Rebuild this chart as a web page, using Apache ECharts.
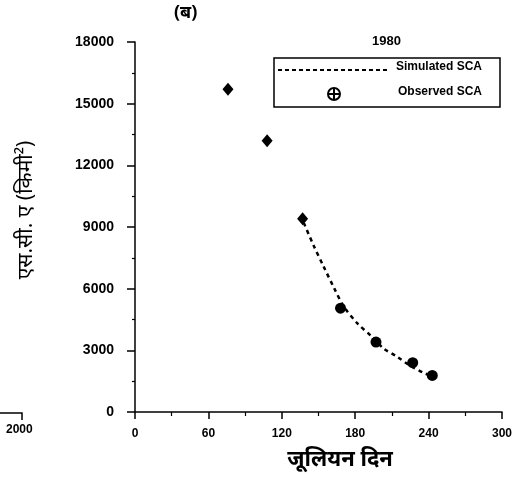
<!DOCTYPE html>
<html>
<head>
<meta charset="utf-8">
<script src="https://cdn.jsdelivr.net/npm/echarts@6/dist/echarts.min.js"></script>
<style>html,body{margin:0;padding:0;background:#fff}#c{width:520px;height:481px}</style>
</head>
<body>
<div id="c"></div>
<script>
var xTicks = [0, 60, 120, 180, 240, 300];
var yTicks = [0, 3000, 6000, 9000, 12000, 15000, 18000];
var observedDays = [76, 108, 137, 168, 197, 227, 243];
var observedSCA = [15700, 13200, 9400, 5050, 3400, 2400, 1780];
var simulatedDays = [138, 146, 154, 163, 171, 182, 193, 203, 214, 225, 236, 243];
var simulatedSCA = [9200, 8100, 7100, 6000, 5100, 4300, 3700, 3100, 2700, 2250, 1900, 1750];
var title = '(ब)';
var year = '1980';
var xName = 'जूलियन दिन';
var yName = 'एस.सी. ए (किमी²)';
var seriesNames = ['Simulated SCA', 'Observed SCA'];

var chart = echarts.init(document.getElementById('c'), null, {renderer: 'canvas'});
var lab = {color: '#000', fontFamily: 'Liberation Sans, Arial, sans-serif', fontWeight: 'bold', fontSize: 12,
  formatter: function (v) { return String(v); }};
var axisLine = {show: true, lineStyle: {color: '#000', width: 1.5}};
chart.setOption({
  backgroundColor: '#fff',
  animation: false,
  grid: {left: 135, top: 42, width: 367, height: 370},
  xAxis: {
    type: 'value', min: xTicks[0], max: xTicks[xTicks.length - 1], interval: xTicks[1] - xTicks[0],
    axisLine: axisLine,
    axisTick: {show: true, inside: false, length: 7, lineStyle: {color: '#000', width: 1.5}},
    minorTick: {show: true, splitNumber: 2, length: 4, lineStyle: {color: '#000', width: 1.2}},
    splitLine: {show: false},
    axisLabel: Object.assign({margin: 16}, lab)
  },
  yAxis: {
    type: 'value', min: yTicks[0], max: yTicks[yTicks.length - 1], interval: yTicks[1] - yTicks[0],
    axisLine: axisLine,
    axisTick: {show: true, inside: false, length: 8, lineStyle: {color: '#000', width: 1.5}},
    minorTick: {show: true, splitNumber: 2, length: 3, lineStyle: {color: '#000', width: 1.2}},
    splitLine: {show: false},
    axisLabel: Object.assign({margin: 21}, lab, {fontSize: 14})
  },
  series: [
    {
      name: seriesNames[0], type: 'line', smooth: 0.3, symbol: 'none',
      data: simulatedDays.map(function (d, i) { return [d, simulatedSCA[i]]; }),
      lineStyle: {color: '#000', width: 2.5, type: [4, 4]}
    },
    {
      name: seriesNames[1], type: 'scatter',
      data: observedDays.map(function (d, i) { return [d, observedSCA[i]]; }),
      symbol: function (v, p) { return p.dataIndex < 3 ? 'diamond' : 'circle'; },
      symbolSize: function (v, p) { return p.dataIndex < 3 ? [11, 13] : 11; },
      itemStyle: {color: '#000', opacity: 1}
    }
  ],
  graphic: [
    {type: 'text', left: 174, top: 4, style: {text: title, font: 'bold 18px "Noto Sans", sans-serif', fill: '#000'}},
    {type: 'text', left: 372, top: 35, style: {text: year, font: 'bold 13px "Liberation Sans", Arial, sans-serif', fill: '#000'}},
    {type: 'rect', shape: {x: 274, y: 58, width: 226, height: 49}, style: {fill: 'none', stroke: '#000', lineWidth: 1.5}},
    {type: 'line', shape: {x1: 278, y1: 70, x2: 388, y2: 70}, style: {stroke: '#000', lineWidth: 2, lineDash: [4, 3]}},
    {type: 'text', left: 396, top: 61, style: {text: seriesNames[0], font: 'bold 12px "Liberation Sans", Arial, sans-serif', fill: '#000'}},
    {type: 'circle', shape: {cx: 334, cy: 94, r: 6}, style: {fill: 'none', stroke: '#000', lineWidth: 2}},
    {type: 'line', shape: {x1: 328, y1: 94, x2: 340, y2: 94}, style: {stroke: '#000', lineWidth: 2}},
    {type: 'line', shape: {x1: 334, y1: 88, x2: 334, y2: 100}, style: {stroke: '#000', lineWidth: 2}},
    {type: 'text', left: 398, top: 86, style: {text: seriesNames[1], font: 'bold 12px "Liberation Sans", Arial, sans-serif', fill: '#000'}},
    {type: 'text', x: 26, y: 210, rotation: Math.PI / 2, style: {text: yName, font: '21px "Noto Sans", sans-serif', fill: '#000', align: 'center', verticalAlign: 'middle'}},
    {type: 'text', x: 340, y: 460, style: {text: xName, font: 'bold 22px "Noto Sans", sans-serif', fill: '#000', align: 'center', verticalAlign: 'middle'}},
    {type: 'text', left: 6, top: 424, style: {text: '2000', font: 'bold 12px "Liberation Sans", Arial, sans-serif', fill: '#000'}},
    {type: 'polyline', shape: {points: [[0, 413], [22, 413], [22, 420]]}, style: {fill: 'none', stroke: '#000', lineWidth: 1.5}}
  ]
});
</script>
</body>
</html>
